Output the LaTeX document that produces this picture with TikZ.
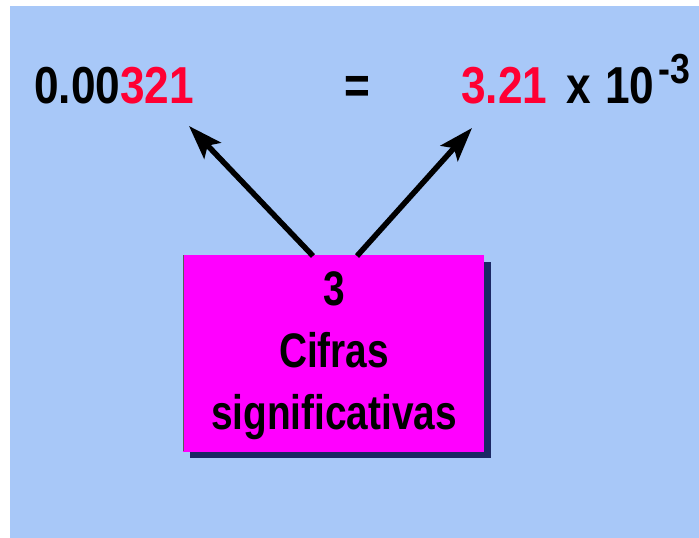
\documentclass[tikz,border=0pt]{standalone}
\usepackage{fontspec}
\setmainfont{Liberation Sans}
\usetikzlibrary{arrows.meta}
\definecolor{bgblue}{RGB}{168,200,248}
\definecolor{numred}{RGB}{255,0,51}
\definecolor{boxmag}{RGB}{255,0,255}
\definecolor{shadownavy}{RGB}{28,40,100}
\newcommand{\narrow}[1]{\scalebox{0.85}[1]{#1}}
\newcommand{\narrowbox}[1]{\scalebox{0.8}[1]{#1}}
\tikzset{
  bigtxt/.style={font=\fontsize{52}{52}\selectfont\bfseries, inner sep=0pt},
  suptxt/.style={font=\fontsize{42}{42}\selectfont\bfseries, inner sep=0pt},
  boxtxt/.style={font=\fontsize{48.5}{48.5}\selectfont\bfseries, inner sep=0pt, anchor=base},
  magbox/.style={fill=boxmag, draw=none, minimum width=301pt, minimum height=197pt, inner sep=0pt, anchor=north west},
  bigarrow/.style={line width=5.5pt, -{Stealth[length=34pt, width=23pt, inset=7pt]}}
}
\begin{document}
\begin{tikzpicture}[x=1pt,y=-1pt]
\useasboundingbox (0,0) rectangle (699,538);
\fill[white] (0,0) rectangle (699,538);
\fill[bgblue] (10,6) rectangle (699,538);
% top formula
\node[bigtxt, anchor=base west] (lhs) at (34,103) {\narrow{0.00\textcolor{numred}{321}}};
\node[bigtxt, anchor=base] (eq) at (357,103) {\narrow{=}};
\node[bigtxt, anchor=base west, text=numred] (mant) at (461,103) {\narrow{3.21}};
\node[bigtxt, anchor=base] (times) at (579,103) {\narrow{x}};
\node[bigtxt, anchor=base west] (ten) at (605,103) {\narrow{10}};
\node[suptxt, anchor=base west] (expo) at (658,83) {\narrow{-3}};
% box with shadow
\fill[shadownavy] (190,262) rectangle (491,458);
\node[magbox] (box) at (183,255) {};
\draw[gray!70!black, line width=1pt] (183.5,255) -- (183.5,451);
\node[boxtxt] (n3) at (334,305) {\narrowbox{3}};
\node[boxtxt] (cif) at (334,367) {\narrowbox{Cifras}};
\node[boxtxt] (sig) at (334,429) {\narrowbox{significativas}};
% arrows
\coordinate (s1) at (313,256);
\coordinate (t1) at (189,126);
\coordinate (s2) at (357,256);
\coordinate (t2) at (472,128);
\draw[bigarrow] (s1) -- (t1);
\draw[bigarrow] (s2) -- (t2);
\end{tikzpicture}
\end{document}
